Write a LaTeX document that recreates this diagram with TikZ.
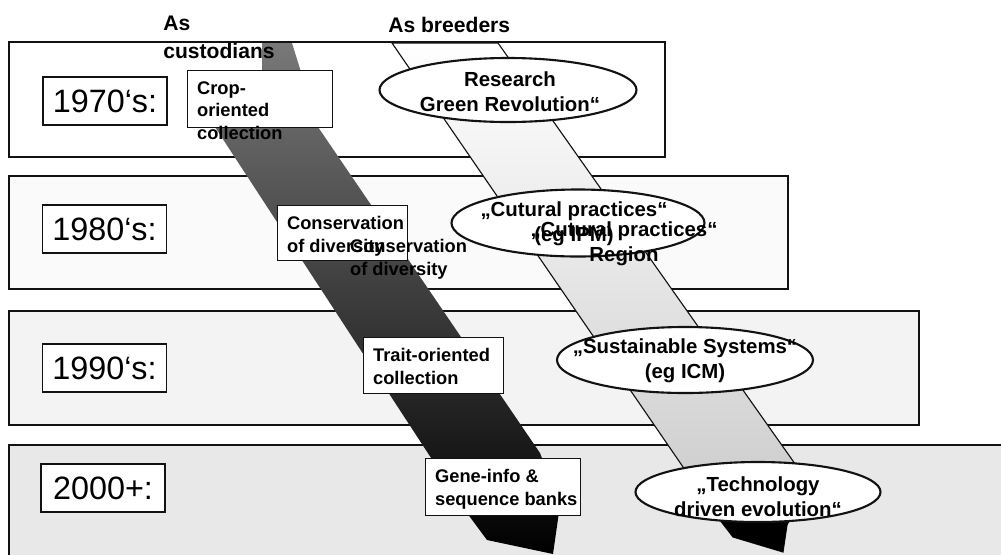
\documentclass[tikz,border=0pt]{standalone}
\usepackage{fontspec}
\setmainfont{Liberation Sans}
\usepackage{tikz}
\usepackage{xcolor}
\usetikzlibrary{positioning}

\begin{document}
\begin{tikzpicture}[x=0.025cm, y=-0.025cm,
		decade/.style={draw=ALMOST_BLACK, line width=1.1pt},
		yearbox/.style={draw=ALMOST_BLACK, line width=0.8pt, fill=white, inner sep=0pt,
			minimum width=3.1cm, minimum height=1.2cm, font=\fontsize{23}{27}\selectfont},
		stagebox/.style={draw=ALMOST_BLACK, line width=0.9pt, fill=white, inner sep=0pt, anchor=north west},
		stagetext/.style={inner sep=0pt, align=left, font=\bfseries\fontsize{13}{16}\selectfont},
		goal/.style={draw=ALMOST_BLACK, line width=1.5pt, fill=white},
		goaltext/.style={inner sep=0pt, align=center, font=\bfseries\fontsize{14.5}{18}\selectfont},
		heading/.style={inner sep=0pt, align=left, font=\bfseries\fontsize{15}{20}\selectfont}]
				\definecolor{WHITE}{RGB}{255, 255, 255}
				\definecolor{ALMOST_BLACK}{RGB}{18, 18, 18}
				\definecolor{BLACK}{RGB}{0, 0, 0}
				\definecolor{ROW_LIGHT}{RGB}{250, 250, 250}
				\definecolor{ROW_MID}{RGB}{243, 243, 243}
				\definecolor{ROW_DARK}{RGB}{232, 232, 232}
				\definecolor{SPECKLE}{RGB}{120, 120, 120}
				\useasboundingbox (0,0) rectangle (1001,554);
				\clip (0,0) rectangle (1001,554);
				\fill[WHITE] (0,0) rectangle (1001,554);

				% decades
				\draw[decade, fill=WHITE] (9,42) rectangle (665,157);
				\draw[decade, fill=ROW_LIGHT] (9,176) rectangle (788,289);
				\draw[decade, fill=ROW_MID] (9,311) rectangle (919,425);
				\draw[decade, fill=ROW_DARK] (9,445) rectangle (1020,580);

				% custodians band
				\shade[top color=SPECKLE, middle color=BLACK!96, bottom color=BLACK]
					(262,43) -- (292,43) -- (318,127) -- (540,453) -- (560,505) -- (553,554)
					-- (487,540) -- (467,513) -- (215,127) -- (262,70) -- cycle;

				% breeders band
				\shade[draw=ALMOST_BLACK, line width=0.8pt, top color=WHITE, bottom color=BLACK!22]
					(392,43) -- (498,43) -- (805,478) -- (787,525) -- (783,552) -- (733,537)
					-- (716,515) -- cycle;
				\fill[BLACK] (712,500) -- (806,500) -- (787,525) -- (783,552) -- (733,537)
					-- (716,515) -- cycle;

				% headings
				\node[heading, anchor=north west] (custodians) at (163,16) {As\\custodians};
				\node[heading, anchor=west] (breeders) at (388,25) {As breeders};

				% decade labels
				\node[yearbox] (y1970) at (105,101) {1970‘s:};
				\node[yearbox] (y1980) at (104.5,229) {1980‘s:};
				\node[yearbox] (y1990) at (104.5,368) {1990‘s:};
				\node[yearbox] (y2000) at (103,488) {2000+:};

				% custodian stages
				\node[stagebox, minimum width=3.625cm, minimum height=1.425cm] (crop) at (187,70) {};
				\node[stagetext, below right=8pt and 7pt of crop.north west] (croptext) {Crop-\\oriented\\collection};
				\node[stagebox, minimum width=3.25cm, minimum height=1.375cm] (conservation) at (277,205) {};
				\node[stagetext, below right=8pt and 7pt of conservation.north west] (constext) {Conservation\\of diversity};
				\node[stagebox, minimum width=3.5cm, minimum height=1.4cm] (trait) at (363,337) {};
				\node[stagetext, below right=8pt and 7pt of trait.north west] (traittext) {Trait-oriented\\collection};
				\node[stagebox, minimum width=3.875cm, minimum height=1.425cm] (gene) at (425,458) {};
				\node[stagetext, below right=8pt and 7pt of gene.north west] (genetext) {Gene-info \&\\sequence banks};

				% breeder goals
				\draw[goal] (508,90) ellipse [x radius=128.5, y radius=32];
				\node[goaltext] (green) at (510,92) {Research\\Green Revolution“};
				\draw[goal] (578,223) ellipse [x radius=126.5, y radius=33.5];
				\node[goaltext] (cultural) at (574,224) {„Cutural practices“\\(eg IPM)};
				\draw[goal] (685,360) ellipse [x radius=128, y radius=33];
				\node[goaltext] (sustainable) at (685,361) {„Sustainable Systems“\\(eg ICM)};
				\draw[goal] (758,492) ellipse [x radius=122.5, y radius=30];
				\node[goaltext] (technology) at (758,497) {„Technology\\driven evolution“};

				% misprinted copies
				\node[stagetext, anchor=north west] (consecho) at ([shift={(63,23)}]constext.north west) {Conservation\\of diversity};
				\node[goaltext] (culturalecho) at ([shift={(50,20)}]cultural.center) {„Cutural practices“\\Region};
\end{tikzpicture}
\end{document}
